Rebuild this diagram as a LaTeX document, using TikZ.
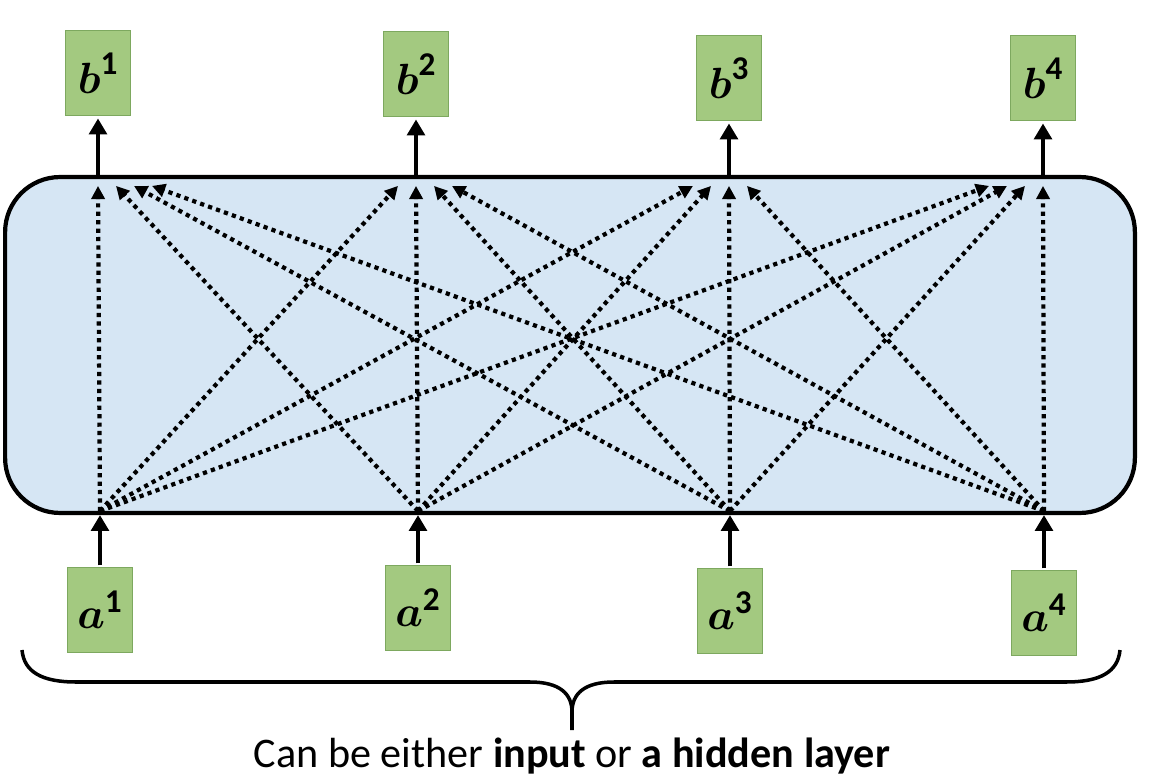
\documentclass[tikz,border=0pt]{standalone}
\usepackage{amsmath, amssymb}
\usepackage{fontspec}
\setmainfont{Carlito}
\usetikzlibrary{arrows.meta, calc}

\definecolor{layerblue}{RGB}{214,230,244}
\definecolor{boxgreen}{RGB}{163,201,128}
\definecolor{boxedge}{RGB}{125,168,95}

\tikzset{
  vecbox/.style={draw=boxedge, fill=boxgreen, minimum width=1.3cm, minimum height=1.7cm,
    inner sep=0pt, font=\fontsize{27}{32}\selectfont},
  layerbox/.style={draw=black, line width=2.4pt, fill=layerblue, rounded corners=1.1cm,
    minimum width=22.6cm, minimum height=6.72cm},
  solidarr/.style={line width=2.2pt, -{Triangle[length=9pt,width=10pt]}},
  dotarr/.style={line width=2.4pt, dash pattern=on 2.4pt off 2.4pt,
    -{Triangle[length=7.5pt,width=7.5pt]}},
}

\begin{document}
\begin{tikzpicture}[x=0.02cm, y=-0.02cm]
    \useasboundingbox (0,0) rectangle (1171,784);

    % --- 1. the layer ---
    \node[layerbox] (layer) at (570,345) {};

    % --- 2. inputs a and outputs b ---
    \foreach \n/\bx/\by/\ax/\ay in {1/98/73/100/610, 2/416/74/418/608,
                                    3/729/78/730/611, 4/1043/78/1044/613}{
        \node[vecbox] (b\n) at (\bx,\by) {$\boldsymbol{b}^{\mathbf{\n}}$};
        \node[vecbox] (a\n) at (\ax,\ay) {$\boldsymbol{a}^{\mathbf{\n}}$};
        \coordinate (top\n) at (b\n.south |- layer.north);
        \coordinate (bot\n) at (a\n.north |- layer.south);
    }

    % --- 3. solid arrows in and out ---
    \foreach \n in {1,...,4}{
        \draw[solidarr, shorten >=1.5pt] (top\n) -- (b\n.south);
        \draw[solidarr, shorten <=1pt] (a\n.north) -- (bot\n);
    }

    % --- 4. every a goes to every b ---
    \foreach \i in {1,...,4}{
        \foreach \j in {1,...,4}{
            \draw[dotarr] ($(bot\i)+(0,-4)$) -- ($(top\j)+({18*(\i-\j)},11)$);
        }
    }

    % --- 5. brace and caption ---
    \draw[line width=2pt] (22,650) .. controls (24,672) and (42,682) .. (76,682)
        -- (530,682) .. controls (560,682) and (572,694) .. (572,712) -- (572,730);
    \draw[line width=2pt] (572,712) .. controls (572,694) and (584,682) .. (614,682)
        -- (1066,682) .. controls (1100,682) and (1118,672) .. (1120,650);
    \node[font=\fontsize{24}{28}\selectfont, anchor=base, inner sep=0pt] (caption)
        at (572,767) {Can be either \textbf{input} or \textbf{a hidden layer}};

\end{tikzpicture}
\end{document}
